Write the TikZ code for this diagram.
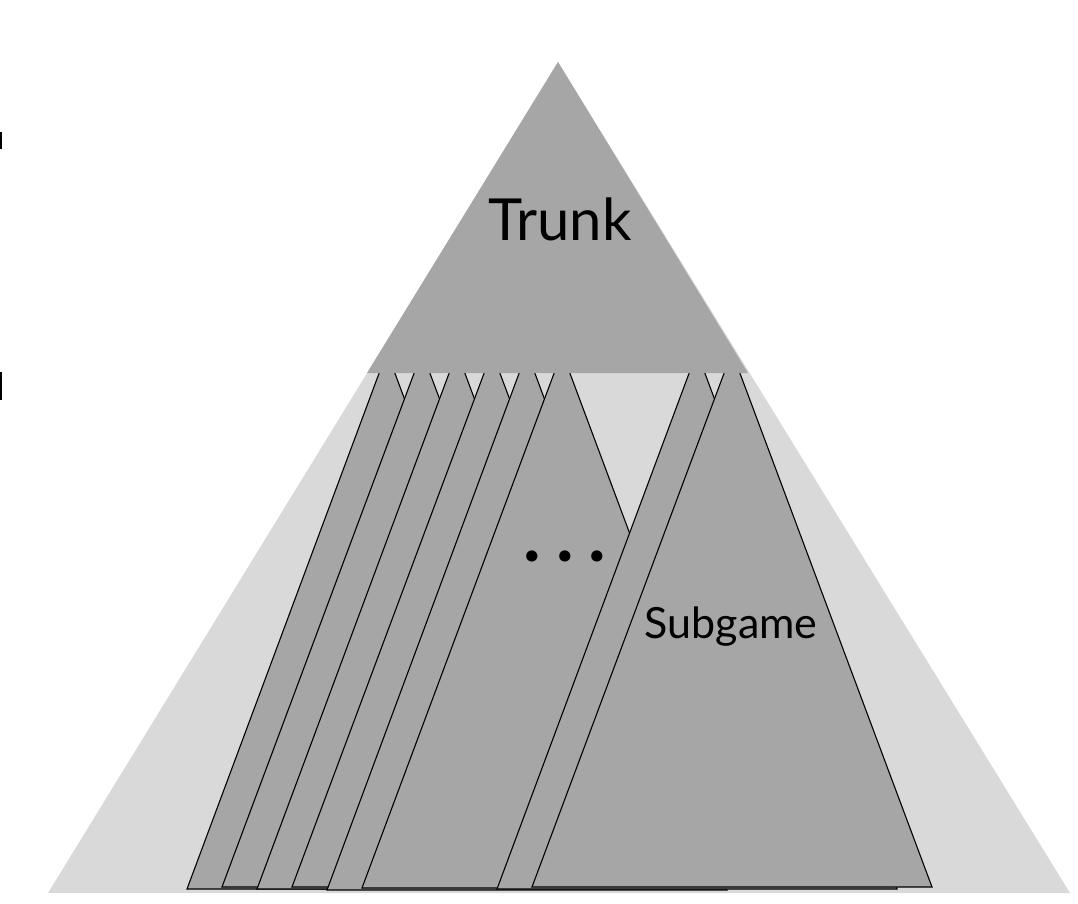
\documentclass[tikz,border=0pt]{standalone}
\usepackage{fontspec}
\setmainfont{Lato}
\definecolor{lightfill}{HTML}{D9D9D9}
\definecolor{darkfill}{HTML}{A6A6A6}
\begin{document}
\begin{tikzpicture}[x=1pt,y=-1pt,
  bigtri/.style={fill=lightfill},
  trunkfill/.style={fill=darkfill},
  subtri/.style={fill=darkfill,draw=black,line width=1.1pt,line join=miter},
  lbl/.style={inner sep=0pt,anchor=base,text=black}]
\useasboundingbox (0,0) rectangle (1078,904);
% whole game
\fill[bigtri] (558,62) -- (48,893) -- (1070,893) -- cycle;
% subgames
\foreach \l/\b in {187/889,222/887,257/889,292/887,327/890,362/888,497/889,532/887}{
  \filldraw[subtri] (\l,\b) -- (\l+200,352) -- (\l+400,\b) -- cycle;
}
% trunk
\fill[trunkfill] (558,62) -- (367,373) -- (748,373) -- cycle;
% clipped fragments at left edge
\fill[black] (0,132) rectangle (1.6,149);
\fill[black] (0,372) rectangle (1.6,400);
% labels
\node[lbl,font=\fontsize{58}{60}\selectfont] (trunk) at (560,240) {Trunk};
\node[lbl,font=\fontsize{43}{45}\selectfont] (subgame) at (731,638) {Subgame};
\node[lbl,font=\bfseries\fontsize{74}{76}\selectfont] (dots) at (565,561) {.\hspace{15pt}.\hspace{15pt}.};
\end{tikzpicture}
\end{document}
